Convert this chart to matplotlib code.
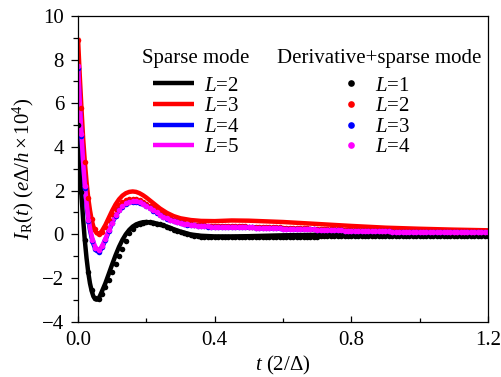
import numpy as np
import matplotlib
matplotlib.use("Agg")
import matplotlib.pyplot as plt
from matplotlib.ticker import MultipleLocator, FormatStrFormatter

plt.rcParams["font.family"] = ["Liberation Serif", "DejaVu Serif"]
plt.rcParams["mathtext.fontset"] = "custom"
plt.rcParams["mathtext.rm"] = "Liberation Serif"
plt.rcParams["mathtext.it"] = "Liberation Serif:italic"
plt.rcParams["font.size"] = 15

# sparse mode curves (lines), L = 2..5
t_line = [0, 0.005, 0.01, 0.015, 0.02, 0.025, 0.03, 0.035, 0.04, 0.045, 0.05, 0.055, 0.06, 0.065, 0.07,
          0.08, 0.09, 0.1, 0.11, 0.12, 0.13, 0.14, 0.15, 0.16, 0.17, 0.18, 0.19, 0.2,
          0.22, 0.24, 0.26, 0.28, 0.3,
          0.33, 0.36, 0.4, 0.45, 0.5, 0.55, 0.6,
          0.7, 0.8, 0.9, 1.0, 1.1, 1.2]
sparse_L2 = [5.0, 3.2, 1.8, 0.7, -0.3, -1.1, -1.75, -2.25, -2.6, -2.85, -2.97, -3.0, -2.95, -2.8, -2.62,
             -2.25, -1.82, -1.38, -0.96, -0.58, -0.26, 0.0, 0.2, 0.35, 0.45, 0.51, 0.55, 0.56,
             0.53, 0.45, 0.35, 0.23, 0.12,
             -0.01, -0.07, -0.1, -0.1, -0.09, -0.07, -0.05,
             -0.03, -0.02, -0.01, 0.0, 0.0, 0.0]
sparse_L3 = [9.0, 7.3, 5.8, 4.4, 3.3, 2.4, 1.65, 1.1, 0.65, 0.35, 0.15, 0.04, 0.02, 0.06, 0.15,
             0.42, 0.75, 1.08, 1.37, 1.6, 1.77, 1.88, 1.94, 1.96, 1.94, 1.88, 1.79, 1.68,
             1.43, 1.18, 0.98, 0.83, 0.73,
             0.65, 0.61, 0.6, 0.63, 0.62, 0.59, 0.56,
             0.47, 0.38, 0.3, 0.25, 0.21, 0.18]
sparse_L4 = [7.7, 6.0, 4.5, 3.2, 2.15, 1.35, 0.7, 0.2, -0.17, -0.45, -0.65, -0.77, -0.8, -0.75, -0.62,
             -0.28, 0.12, 0.5, 0.83, 1.08, 1.27, 1.4, 1.47, 1.5, 1.5, 1.46, 1.4, 1.32,
             1.13, 0.94, 0.77, 0.63, 0.5,
             0.42, 0.38, 0.35, 0.34, 0.32, 0.29, 0.26,
             0.2, 0.15, 0.12, 0.1, 0.09, 0.08]
sparse_L5 = [7.8, 6.1, 4.6, 3.3, 2.25, 1.45, 0.8, 0.3, -0.07, -0.35, -0.55, -0.68, -0.72, -0.67, -0.55,
             -0.22, 0.17, 0.55, 0.87, 1.12, 1.31, 1.43, 1.5, 1.53, 1.52, 1.48, 1.42, 1.34,
             1.15, 0.96, 0.79, 0.65, 0.51,
             0.43, 0.39, 0.36, 0.34, 0.32, 0.29, 0.26,
             0.2, 0.15, 0.12, 0.1, 0.09, 0.08]

# derivative+sparse mode (dots), L = 1..4, sampled every 0.01 from 0 to 1.2
t_dot = np.linspace(0, 1.2, 121)
deriv_L1 = [5.0, 1.95, -0.25, -1.75, -2.55, -2.9, -2.97, -2.75, -2.42, -2.08,
            -1.72, -1.37, -1.02, -0.66, -0.3, 0.05, 0.26, 0.4, 0.48, 0.53,
            0.55, 0.54, 0.52, 0.49, 0.45, 0.4, 0.34, 0.28, 0.21, 0.15,
            0.09, 0.04, 0.0, -0.04, -0.07, -0.09, -0.11, -0.12, -0.13, -0.13,
            -0.14, -0.14, -0.14, -0.14, -0.14, -0.14, -0.14, -0.14, -0.13, -0.13,
            -0.13, -0.13, -0.13, -0.13, -0.12, -0.12, -0.12, -0.12, -0.12, -0.12,
            -0.11, -0.11, -0.11, -0.11, -0.11, -0.11, -0.11, -0.11, -0.11, -0.11,
            -0.11, -0.1, -0.1, -0.1, -0.1, -0.1, -0.1, -0.1, -0.1, -0.1,
            -0.1, -0.1, -0.1, -0.1, -0.1, -0.1, -0.1, -0.1, -0.1, -0.1,
            -0.1, -0.1, -0.1, -0.1, -0.1, -0.1, -0.1, -0.1, -0.1, -0.1,
            -0.1, -0.09, -0.09, -0.09, -0.09, -0.09, -0.09, -0.09, -0.09, -0.09,
            -0.09, -0.09, -0.09, -0.09, -0.09, -0.09, -0.09, -0.09, -0.09, -0.09,
            -0.09]
deriv_L2 = [8.9, 5.8, 3.3, 1.65, 0.72, 0.22, 0.03, 0.1, 0.35, 0.65,
            0.93, 1.16, 1.34, 1.47, 1.56, 1.61, 1.63, 1.61, 1.56, 1.49,
            1.4, 1.3, 1.2, 1.1, 1.0, 0.91, 0.82, 0.74, 0.67, 0.61,
            0.56, 0.52, 0.49, 0.46, 0.44, 0.42, 0.41, 0.4, 0.39, 0.39,
            0.38, 0.38, 0.38, 0.38, 0.38, 0.37, 0.37, 0.37, 0.36, 0.36,
            0.35, 0.35, 0.34, 0.34, 0.33, 0.33, 0.32, 0.32, 0.31, 0.31,
            0.3, 0.3, 0.29, 0.29, 0.28, 0.28, 0.27, 0.27, 0.26, 0.26,
            0.25, 0.25, 0.24, 0.24, 0.23, 0.23, 0.22, 0.22, 0.21, 0.21,
            0.2, 0.2, 0.2, 0.19, 0.19, 0.19, 0.18, 0.18, 0.18, 0.17,
            0.17, 0.17, 0.16, 0.16, 0.16, 0.15, 0.15, 0.15, 0.15, 0.14,
            0.14, 0.14, 0.14, 0.14, 0.13, 0.13, 0.13, 0.13, 0.13, 0.12,
            0.12, 0.12, 0.12, 0.12, 0.12, 0.11, 0.11, 0.11, 0.11, 0.11,
            0.11]
deriv_L3 = [7.6, 4.5, 2.1, 0.6, -0.3, -0.7, -0.8, -0.6, -0.25, 0.15,
            0.5, 0.83, 1.09, 1.27, 1.39, 1.46, 1.49, 1.48, 1.44, 1.37,
            1.28, 1.18, 1.08, 0.98, 0.89, 0.8, 0.72, 0.65, 0.59, 0.54,
            0.5, 0.47, 0.44, 0.42, 0.4, 0.38, 0.37, 0.36, 0.35, 0.35,
            0.34, 0.34, 0.34, 0.33, 0.33, 0.33, 0.33, 0.32, 0.32, 0.32,
            0.31, 0.31, 0.3, 0.3, 0.29, 0.29, 0.28, 0.28, 0.27, 0.27,
            0.26, 0.26, 0.25, 0.25, 0.24, 0.24, 0.23, 0.23, 0.22, 0.22,
            0.21, 0.21, 0.2, 0.2, 0.19, 0.19, 0.18, 0.18, 0.17, 0.17,
            0.16, 0.16, 0.16, 0.15, 0.15, 0.15, 0.14, 0.14, 0.14, 0.13,
            0.13, 0.13, 0.12, 0.12, 0.12, 0.12, 0.11, 0.11, 0.11, 0.11,
            0.1, 0.1, 0.1, 0.1, 0.1, 0.1, 0.1, 0.1, 0.1, 0.1,
            0.1, 0.09, 0.09, 0.09, 0.09, 0.09, 0.09, 0.09, 0.09, 0.09,
            0.09]
deriv_L4 = [7.7, 4.6, 2.2, 0.65, -0.25, -0.63, -0.74, -0.55, -0.2, 0.18,
            0.53, 0.86, 1.11, 1.29, 1.41, 1.48, 1.51, 1.5, 1.46, 1.39,
            1.3, 1.2, 1.1, 1.0, 0.9, 0.81, 0.73, 0.66, 0.6, 0.55,
            0.51, 0.47, 0.45, 0.42, 0.4, 0.39, 0.38, 0.37, 0.36, 0.35,
            0.35, 0.34, 0.34, 0.34, 0.33, 0.33, 0.33, 0.32, 0.32, 0.32,
            0.31, 0.31, 0.3, 0.3, 0.29, 0.29, 0.28, 0.28, 0.27, 0.27,
            0.26, 0.26, 0.25, 0.25, 0.24, 0.24, 0.23, 0.23, 0.22, 0.22,
            0.21, 0.21, 0.2, 0.2, 0.19, 0.19, 0.18, 0.18, 0.17, 0.17,
            0.16, 0.16, 0.16, 0.15, 0.15, 0.15, 0.14, 0.14, 0.14, 0.13,
            0.13, 0.13, 0.12, 0.12, 0.12, 0.12, 0.11, 0.11, 0.11, 0.11,
            0.1, 0.1, 0.1, 0.1, 0.1, 0.1, 0.1, 0.1, 0.1, 0.1,
            0.1, 0.09, 0.09, 0.09, 0.09, 0.09, 0.09, 0.09, 0.09, 0.09,
            0.09]

colors = ["black", "#ff0000", "#0000ff", "#ff00ff"]
sparse_labels = ["$L$=2", "$L$=3", "$L$=4", "$L$=5"]
deriv_labels = ["$L$=1", "$L$=2", "$L$=3", "$L$=4"]


def main():
    fig = plt.figure(figsize=(5.02, 3.77), dpi=100)
    ax = fig.add_axes([0.1554, 0.1472, 0.8167, 0.8103])

    line_handles = []
    for y, c, lab in zip([sparse_L2, sparse_L3, sparse_L4, sparse_L5], colors, sparse_labels):
        h, = ax.plot(t_line, y, color=c, lw=3.2, label=lab, solid_capstyle="butt")
        line_handles.append(h)

    dot_handles = []
    for y, c, lab in zip([deriv_L1, deriv_L2, deriv_L3, deriv_L4], colors, deriv_labels):
        h, = ax.plot(t_dot, y, ls="none", marker="o", ms=4.0, mec="none", color=c, label=lab)
        dot_handles.append(h)

    ax.set_xlim(0, 1.2)
    ax.set_ylim(-4, 10)
    ax.xaxis.set_major_locator(MultipleLocator(0.4))
    ax.xaxis.set_minor_locator(MultipleLocator(0.2))
    ax.yaxis.set_major_locator(MultipleLocator(2))
    ax.yaxis.set_minor_locator(MultipleLocator(1))
    ax.xaxis.set_major_formatter(FormatStrFormatter("%.1f"))

    ax.tick_params(axis="x", which="both", direction="in", top=False, pad=7, width=0.9)
    ax.tick_params(axis="x", which="major", length=4.5)
    ax.tick_params(axis="x", which="minor", length=3)
    ax.tick_params(axis="y", which="both", direction="out", right=False, pad=5, width=0.9)
    ax.tick_params(axis="y", which="major", length=5)
    ax.tick_params(axis="y", which="minor", length=3.5)
    for s in ax.spines.values():
        s.set_linewidth(0.9)

    ax.set_xlabel("$t$ (2/\u0394)", labelpad=3)
    ax.set_ylabel(r"$I_{\mathrm{R}}(t)$ ($e\Delta/h\times$10$^4$)", labelpad=4)

    leg1 = ax.legend(handles=line_handles, title="Sparse mode", loc="upper center",
                     bbox_to_anchor=(0.288, 0.925), frameon=False, handlelength=2.0,
                     handletextpad=0.45, labelspacing=0.05, borderpad=0, fontsize=15,
                     title_fontsize=15)
    # a bit more room between the title and the entries
    leg1._legend_box.sep = 5.5
    ax.add_artist(leg1)
    leg2 = ax.legend(handles=dot_handles, title="Derivative+sparse mode", loc="upper center",
                     bbox_to_anchor=(0.734, 0.925), frameon=False, handlelength=0.3,
                     handletextpad=1.0, labelspacing=0.05, borderpad=0, fontsize=15,
                     title_fontsize=15, markerscale=1.2)
    leg2._legend_box.sep = 5.5

    fig.savefig("out.png", dpi=100)


if __name__ == '__main__':
    main()
